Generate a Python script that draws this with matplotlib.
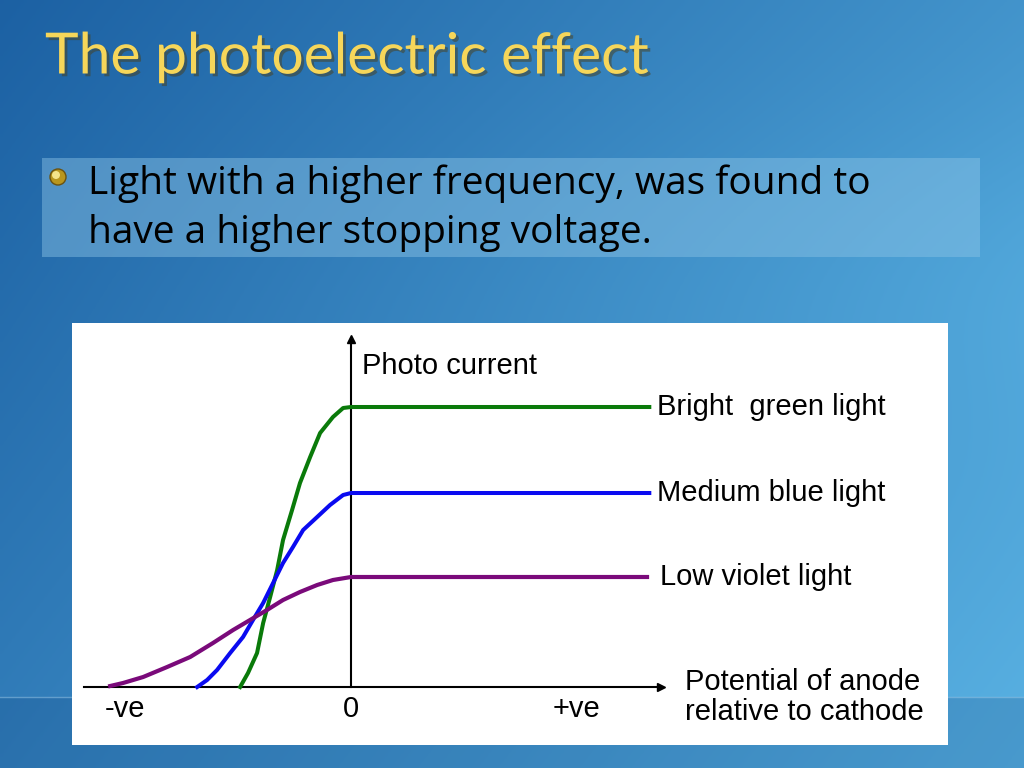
import numpy as np
import matplotlib.pyplot as plt
import matplotlib.patheffects as pe
from matplotlib.patches import Rectangle, Circle

# ----
# DATA
# ----
title = "The photoelectric effect"
bullet_lines = ["Light with a higher frequency, was found to",
                "have a higher stopping voltage."]

# potential (y-axis at 0) and photo current
green_x = [-0.491, -0.456, -0.416, -0.389, -0.358, -0.327, -0.301, -0.261,
           -0.226, -0.181, -0.137, -0.080, -0.035, 0.0, 1.32]
green_y = [0.0, 0.14, 0.34, 0.64, 0.90, 1.17, 1.47, 1.77,
           2.04, 2.30, 2.54, 2.70, 2.79, 2.80, 2.80]

blue_x = [-0.681, -0.637, -0.593, -0.535, -0.478, -0.434, -0.389, -0.345,
          -0.301, -0.257, -0.212, -0.150, -0.093, -0.035, 0.0, 1.32]
blue_y = [0.0, 0.07, 0.17, 0.34, 0.50, 0.67, 0.84, 1.04,
          1.24, 1.40, 1.57, 1.70, 1.82, 1.92, 1.94, 1.94]

violet_x = [-1.066, -1.009, -0.920, -0.814, -0.712, -0.611, -0.522, -0.447,
            -0.372, -0.301, -0.226, -0.150, -0.080, 0.0, 1.31]
violet_y = [0.01, 0.04, 0.10, 0.20, 0.30, 0.44, 0.57, 0.67,
            0.77, 0.87, 0.95, 1.02, 1.07, 1.10, 1.10]

labels = ["Bright  green light", "Medium blue light", "Low violet light"]
label_x = [1.354, 1.354, 1.367]
tick_labels = ["-ve", "0", "+ve"]
tick_pos = [-1.0, 0.0, 1.0]

# ------
# FIGURE
# ------
fig = plt.figure(figsize=(10.24, 7.68), dpi=100)

# slide background gradient
bg = fig.add_axes([0, 0, 1, 1])
gx, gy = np.meshgrid(np.linspace(0, 1, 256), np.linspace(0, 1, 256))
t = np.clip(0.6 * gx + 0.35 * gy + 0.1 * np.exp(-((gy - 0.35) / 0.2) ** 2) * gx, 0, 1)
c0 = np.array([0.11, 0.38, 0.64])
c1 = np.array([0.36, 0.71, 0.90])
img = c0[None, None, :] * (1 - t[..., None]) + c1[None, None, :] * t[..., None]
bg.imshow(img, extent=[0, 1024, 768, 0], aspect='auto')
bg.add_patch(Rectangle((0, 697), 1024, 71, facecolor='#0B3F7A', alpha=0.2,
                       edgecolor='none'))
bg.plot([0, 1024], [697, 697], color='#9CCBEB', lw=1, alpha=0.5)
bg.set_xlim(0, 1024)
bg.set_ylim(768, 0)
bg.axis('off')

# title
bg.text(45, 58, title, fontsize=41, family='Lato', color='#F6D65A',
        va='center', ha='left',
        path_effects=[pe.withSimplePatchShadow(offset=(2, -2), alpha=0.5)])

# bullet box
bg.add_patch(Rectangle((42, 158), 938, 99, facecolor='#8CC4E6', alpha=0.45,
                       edgecolor='none'))
bg.add_patch(Circle((58, 177), 8, facecolor='#B8961E', edgecolor='#6A5210', lw=1))
bg.add_patch(Circle((56, 175), 4, facecolor='#F4E48A', edgecolor='none'))
for k, line in enumerate(bullet_lines):
    bg.text(88, 184 + 49 * k, line, fontsize=28, family='Open Sans',
            color='black', va='center', ha='left')

# ----
# PLOT
# ----
ax = fig.add_axes([72 / 1024, 23 / 768, 876 / 1024, 422 / 768])
ax.set_facecolor('white')
ax.set_xlim(-1.235, 2.642)
ax.set_ylim(-0.58, 3.64)
ax.set_xticks([])
ax.set_yticks([])
for s in ax.spines.values():
    s.set_visible(False)

# axes lines with arrow heads
ax.plot([-1.18, 1.36], [0, 0], color='black', lw=1.5)
ax.plot([0, 0], [0, 3.45], color='black', lw=1.5)
ax.plot(1.37, 0, marker='>', color='black', markersize=6)
ax.plot(0, 3.48, marker='^', color='black', markersize=6)

ax.plot(green_x, green_y, color='#0A7A0A', lw=2.9, solid_joinstyle='round')
ax.plot(blue_x, blue_y, color='#0A0AF0', lw=2.9, solid_joinstyle='round')
ax.plot(violet_x, violet_y, color='#7A0A7A', lw=3.0, solid_joinstyle='round')

plateaus = [green_y[-1], blue_y[-1], violet_y[-1]]
for k in range(3):
    ax.text(label_x[k], plateaus[k], labels[k], fontsize=21,
            family='Liberation Sans', va='center', ha='left')

ax.text(0.05, 3.21, "Photo current", fontsize=21, family='Liberation Sans',
        va='center', ha='left')
ax.text(1.476, -0.10, "Potential of anode\nrelative to cathode", fontsize=21,
        family='Liberation Sans', va='center', ha='left', linespacing=1.05)
for k in range(3):
    ax.text(tick_pos[k], -0.22, tick_labels[k], fontsize=21,
            family='Liberation Sans', va='center', ha='center')

fig.savefig('out.png', dpi=100)
